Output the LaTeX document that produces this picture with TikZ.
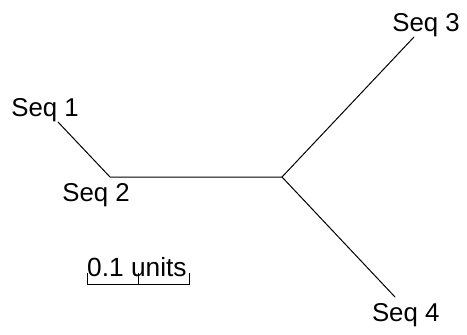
\documentclass[tikz,border=0pt]{standalone}
\usepackage{fontspec}
\setmainfont{Liberation Sans}
\begin{document}
\begin{tikzpicture}[x=1pt,y=-1pt,
  branch/.style={line width=1pt,line cap=round},
  leaflabel/.style={anchor=base west,inner sep=0pt,font=\fontsize{25.8}{30}\selectfont},
  scalebar/.style={line width=1pt}]
\useasboundingbox (0,0) rectangle (467,335);
% tree vertices
\coordinate (t1) at (58,122);
\coordinate (n1) at (110,177);
\coordinate (n2) at (282,177);
\coordinate (t3) at (414,37);
\coordinate (t4) at (395,297);
% branches
\draw[branch] (t1) -- (n1) -- (n2);
\draw[branch] (n2) -- (t3);
\draw[branch] (n2) -- (t4);
% leaf labels
\node[leaflabel] (s1) at (11.1,116) {Seq 1};
\node[leaflabel] (s2) at (62.1,201.5) {Seq 2};
\node[leaflabel] (s3) at (392.1,31.7) {Seq 3};
\node[leaflabel] (s4) at (371.8,321.7) {Seq 4};
% scale bar
\coordinate (bl) at (87,284);
\coordinate (bm) at (138,284);
\coordinate (br) at (189,284);
\draw[scalebar] (bl) ++(0,-11) -- (bl) -- (br) -- ++(0,-11);
\draw[scalebar] (bm) -- ++(0,-11);
\node[leaflabel,font=\fontsize{26.3}{30}\selectfont] (sc) at (87,276.7) {0.1 units};
\end{tikzpicture}
\end{document}
